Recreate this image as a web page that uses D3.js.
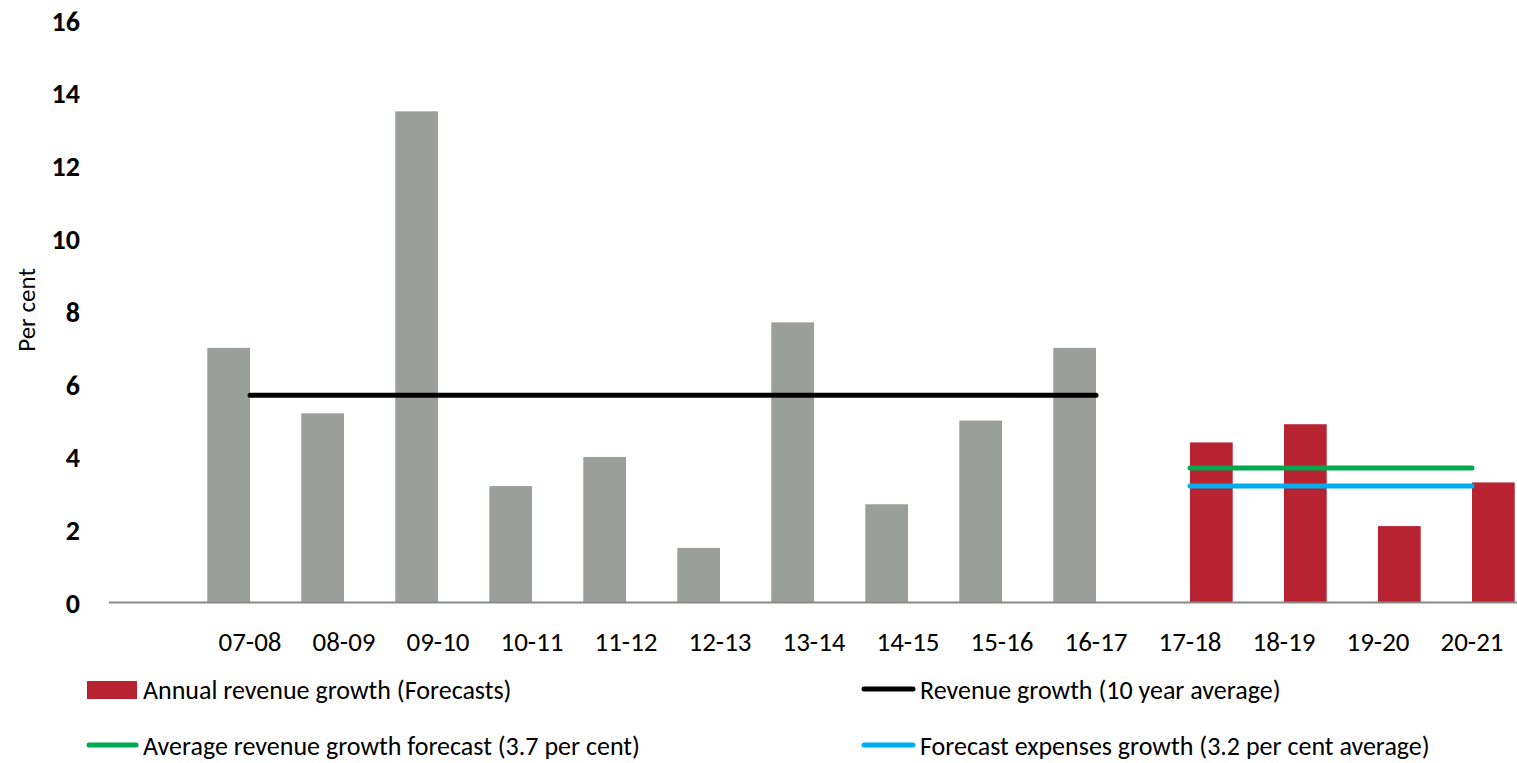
<!DOCTYPE html>
<html>
<head>
<meta charset="utf-8">
<script src="https://cdn.jsdelivr.net/npm/d3@7"></script>
<style>
  html, body { margin: 0; padding: 0; background: #fff; }
  svg { display: block; font-family: Carlito, Calibri, Lato, sans-serif; }
</style>
</head>
<body>
<svg id="chart" width="1517" height="763"></svg>
<script>
// ---- Data ----
const categories = ["", "07-08", "08-09", "09-10", "10-11", "11-12", "12-13", "13-14", "14-15", "15-16", "16-17", "17-18", "18-19", "19-20", "20-21"];
const historicalYears = ["07-08", "08-09", "09-10", "10-11", "11-12", "12-13", "13-14", "14-15", "15-16", "16-17"];
const historicalGrowth = [7.0, 5.2, 13.5, 3.2, 4.0, 1.5, 7.7, 2.7, 5.0, 7.0];
const forecastYears = ["17-18", "18-19", "19-20", "20-21"];
const forecastGrowth = [4.4, 4.9, 2.1, 3.3];
const tenYearAverage = 5.7;
const forecastRevenueAverage = 3.7;
const forecastExpensesAverage = 3.2;
const yTicks = [0, 2, 4, 6, 8, 10, 12, 14, 16];
const legendLabels = [
  "Annual revenue growth (Forecasts)",
  "Revenue growth (10 year average)",
  "Average revenue growth forecast (3.7 per cent)",
  "Forecast expenses growth (3.2 per cent average)"
];

// ---- Styles ----
const GREY = "#9b9f9b", RED = "#b82332", BLACK = "#000000", GREEN = "#00a94f", BLUE = "#00aeef";

const svg = d3.select("#chart");

const x0 = d3.scaleBand().domain(categories).range([109, 1519])
  .paddingInner(0.0915).paddingOuter(0.0915 / 2);
const x1 = d3.scaleBand().domain(["hist", "fore"]).range([0, x0.bandwidth()]);
const y = d3.scaleLinear().domain([0, 16]).range([602.5, 20.4]);
const cx = c => x0(c) + x0.bandwidth() / 2;

// Y axis labels (no line)
const yAxis = d3.axisLeft(y).tickValues(yTicks).tickSize(0).tickPadding(0).tickFormat(d3.format("d"));
const gy = svg.append("g").attr("transform", "translate(80,0)").call(yAxis);
gy.select(".domain").remove();
gy.selectAll("text").attr("font-size", 28).attr("font-weight", "bold").attr("fill", "#000")
  .attr("font-family", "Carlito, Calibri, Lato, sans-serif").attr("dy", "0.35em");

// Axis title
svg.append("text").attr("transform", "translate(35,310) rotate(-90)")
  .attr("text-anchor", "middle").attr("font-size", 25).attr("fill", "#000").text("Per cent");

// Bars
svg.append("g").selectAll("rect").data(historicalYears.map((c, i) => ({c, v: historicalGrowth[i]})))
  .join("rect")
  .attr("x", d => x0(d.c) + x1("hist")).attr("width", x1.bandwidth())
  .attr("y", d => y(d.v)).attr("height", d => y(0) - y(d.v))
  .attr("fill", GREY);
svg.append("g").selectAll("rect").data(forecastYears.map((c, i) => ({c, v: forecastGrowth[i]})))
  .join("rect")
  .attr("x", d => x0(d.c) + x1("fore")).attr("width", x1.bandwidth())
  .attr("y", d => y(d.v)).attr("height", d => y(0) - y(d.v))
  .attr("fill", RED);

// X axis
const xAxis = d3.axisBottom(x0).tickSize(0).tickPadding(0);
const gx = svg.append("g").attr("transform", `translate(0,${y(0)})`).call(xAxis);
gx.select(".domain").attr("stroke", "#8a8a8a").attr("stroke-width", 2).attr("d", `M109,0H1517`);
gx.selectAll("text").attr("font-size", 27).attr("fill", "#000")
  .attr("font-family", "Carlito, Calibri, Lato, sans-serif").attr("y", 39).attr("dy", "0.35em");

// Lines
const line = d3.line().x(d => cx(d.c)).y(d => y(d.v));
function drawLine(cats, v, color) {
  svg.append("path").datum(cats.map(c => ({c, v})))
    .attr("d", line).attr("fill", "none").attr("stroke", color)
    .attr("stroke-width", 5).attr("stroke-linecap", "round");
}
drawLine(historicalYears, tenYearAverage, BLACK);
drawLine(forecastYears, forecastRevenueAverage, GREEN);
drawLine(forecastYears, forecastExpensesAverage, BLUE);

// Legend
const leg = svg.append("g").attr("font-size", 26).attr("fill", "#000");
leg.append("rect").attr("x", 87).attr("y", 681).attr("width", 50).attr("height", 18).attr("fill", RED);
leg.append("text").attr("x", 143).attr("y", 690).attr("dy", "0.35em").text(legendLabels[0]);
leg.append("line").attr("x1", 864).attr("x2", 913).attr("y1", 689).attr("y2", 689)
  .attr("stroke", BLACK).attr("stroke-width", 5).attr("stroke-linecap", "round");
leg.append("text").attr("x", 920).attr("y", 690).attr("dy", "0.35em").text(legendLabels[1]);
leg.append("line").attr("x1", 89).attr("x2", 136).attr("y1", 745).attr("y2", 745)
  .attr("stroke", GREEN).attr("stroke-width", 5).attr("stroke-linecap", "round");
leg.append("text").attr("x", 143).attr("y", 746).attr("dy", "0.35em").text(legendLabels[2]);
leg.append("line").attr("x1", 864).attr("x2", 913).attr("y1", 745).attr("y2", 745)
  .attr("stroke", BLUE).attr("stroke-width", 5).attr("stroke-linecap", "round");
leg.append("text").attr("x", 920).attr("y", 746).attr("dy", "0.35em").text(legendLabels[3]);
</script>
</body>
</html>
